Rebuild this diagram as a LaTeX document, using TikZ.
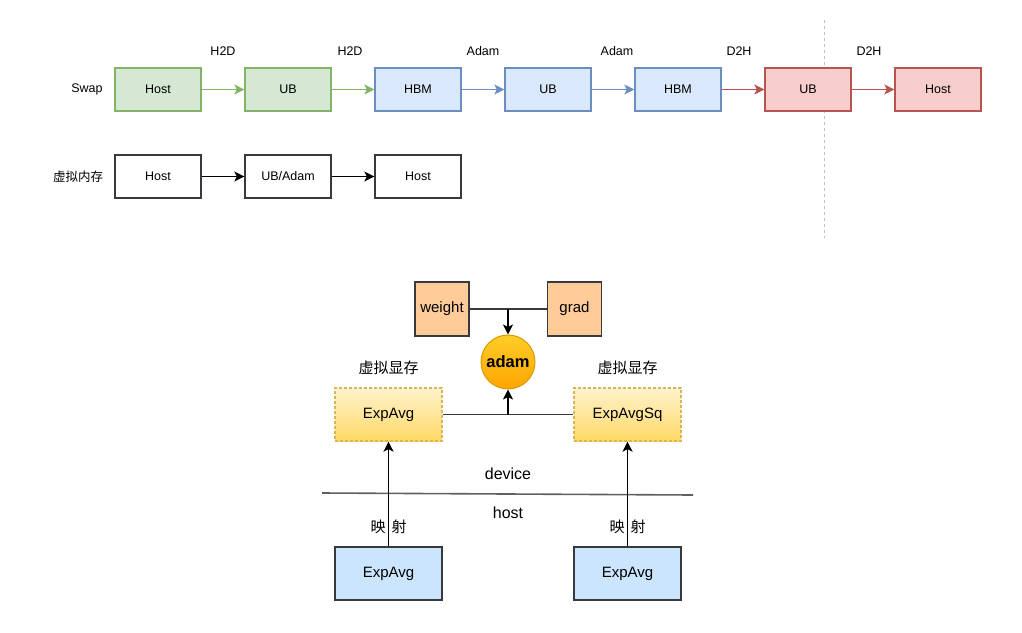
\documentclass[tikz,border=0pt]{standalone}
\usepackage{fontspec}
\setmainfont{Liberation Sans}
\newfontfamily\cjk{Noto Sans CJK SC}
\usetikzlibrary{arrows.meta,shapes.geometric}
\definecolor{gfill}{HTML}{D5E8D4}\definecolor{gdraw}{HTML}{82B366}
\definecolor{bfill}{HTML}{DAE8FC}\definecolor{bdraw}{HTML}{6C8EBF}
\definecolor{rfill}{HTML}{F8CECC}\definecolor{rdraw}{HTML}{B85450}
\definecolor{kdraw}{HTML}{36393D}
\definecolor{ofill}{HTML}{FFCC99}
\definecolor{atop}{HTML}{FFCD28}\definecolor{abot}{HTML}{FFA500}\definecolor{adraw}{HTML}{D79B00}
\definecolor{ytop}{HTML}{FFF2CC}\definecolor{ybot}{HTML}{FFD966}\definecolor{ydraw}{HTML}{D6B656}
\definecolor{lblue}{HTML}{CCE5FF}
\tikzset{
  sbox/.style={draw, line width=1.3pt, minimum width=86pt, minimum height=43pt, inner sep=0pt, font=\fontsize{12.5}{14}\selectfont},
  gbox/.style={sbox, fill=gfill, draw=gdraw},
  bbox/.style={sbox, fill=bfill, draw=bdraw},
  rbox/.style={sbox, fill=rfill, draw=rdraw},
  kbox/.style={sbox, fill=white, draw=kdraw},
  lbl/.style={inner sep=0pt, font=\fontsize{12.5}{14}\selectfont},
  tip/.style={-{Stealth[length=10pt,width=10pt,inset=2.5pt]}},
  garr/.style={draw=gdraw, line width=1.7pt, tip},
  barr/.style={draw=bdraw, line width=1.7pt, tip},
  rarr/.style={draw=rdraw, line width=1.7pt, tip},
  karr/.style={draw=black, line width=1.7pt, tip},
  obox/.style={draw=kdraw, fill=ofill, line width=1.3pt, minimum width=54pt, minimum height=54pt, inner sep=0pt, font=\fontsize{15}{17}\selectfont},
  ybox/.style={draw=ydraw, dash pattern=on 3pt off 2pt, top color=ytop, bottom color=ybot, line width=1.2pt, minimum width=107pt, minimum height=53pt, inner sep=0pt, font=\fontsize{15}{17}\selectfont},
  hbox/.style={draw=kdraw, fill=lblue, line width=1.3pt, minimum width=107pt, minimum height=53pt, inner sep=0pt, font=\fontsize{15}{17}\selectfont},
  big/.style={inner sep=0pt, font=\fontsize{16}{18}\selectfont},
  cj/.style={inner sep=0pt, font=\cjk\fontsize{15}{17}\selectfont},
}
\begin{document}
\begin{tikzpicture}[x=1pt,y=-1pt]
\useasboundingbox[fill=white] (0,0) rectangle (1022,632);
% dashed separator
\coordinate (vt) at (824,20); \coordinate (vb) at (824,238);
\draw[gray!50, dash pattern=on 3pt off 3pt, line width=0.9pt] (vt) -- (vb);
% Swap row
\node[lbl] (swap) at (87,89.5) {Swap};
\node[gbox] (h1) at (158,89.5) {Host};
\node[gbox] (u1) at (288,89.5) {UB};
\node[bbox] (m1) at (418,89.5) {HBM};
\node[bbox] (u2) at (548,89.5) {UB};
\node[bbox] (m2) at (678,89.5) {HBM};
\node[rbox] (u3) at (808,89.5) {UB};
\node[rbox] (h2) at (938,89.5) {Host};
\draw[garr] (h1) -- (u1);
\draw[garr] (u1) -- (m1);
\draw[barr] (m1) -- (u2);
\draw[barr] (u2) -- (m2);
\draw[rarr] (m2) -- (u3);
\draw[rarr] (u3) -- (h2);
\node[lbl] (l1) at (223,51) {H2D};
\node[lbl] (l2) at (350,51) {H2D};
\node[lbl] (l3) at (483,51) {Adam};
\node[lbl] (l4) at (617,51) {Adam};
\node[lbl] (l5) at (739,51) {D2H};
\node[lbl] (l6) at (869,51) {D2H};
% virtual memory row
\node[inner sep=0pt, font=\cjk\fontsize{12.5}{14}\selectfont] (vm) at (78,176.5) {虚拟内存};
\node[kbox] (k1) at (158,176.5) {Host};
\node[kbox] (k2) at (288,176.5) {UB/Adam};
\node[kbox] (k3) at (418,176.5) {Host};
\draw[karr] (k1) -- (k2);
\draw[karr] (k2) -- (k3);
% bottom diagram
\node[obox] (w) at (442,309) {weight};
\node[obox] (g) at (574.5,309) {grad};
\node[circle, draw=adraw, top color=atop, bottom color=abot, line width=1pt, minimum size=54pt, inner sep=0pt, font=\bfseries\fontsize{16.5}{18}\selectfont] (adam) at (508,362) {adam};
\coordinate (wg) at (508,309);
\draw[line width=1.7pt, kdraw] (w) -- (g);
\draw[karr] (wg) -- (adam);
\node[cj] (c1) at (388.5,368) {虚拟显存};
\node[cj] (c2) at (627.5,368) {虚拟显存};
\node[ybox] (e1) at (388.5,414.5) {ExpAvg};
\node[ybox] (e2) at (627.5,414.5) {ExpAvgSq};
\coordinate (ee) at (508,414.5);
\draw[line width=1.7pt, kdraw] (e1) -- (e2);
\draw[karr] (ee) -- (adam);
% device / host
\coordinate (sl) at (322,493); \coordinate (sr) at (693,495);
\draw[line width=1.6pt, kdraw!80] (sl) -- (sr);
\node[big] (dev) at (508,474) {device};
\node[big] (hst) at (508,513) {host};
\node[hbox] (x1) at (388.5,573.5) {ExpAvg};
\node[hbox] (x2) at (627.5,573.5) {ExpAvg};
\draw[karr] (x1) -- (e1);
\draw[karr] (x2) -- (e2);
\node[cj] (m1l) at (388.5,527) {映\hspace{6pt}射};
\node[cj] (m2l) at (627.5,527) {映\hspace{6pt}射};
\end{tikzpicture}
\end{document}
